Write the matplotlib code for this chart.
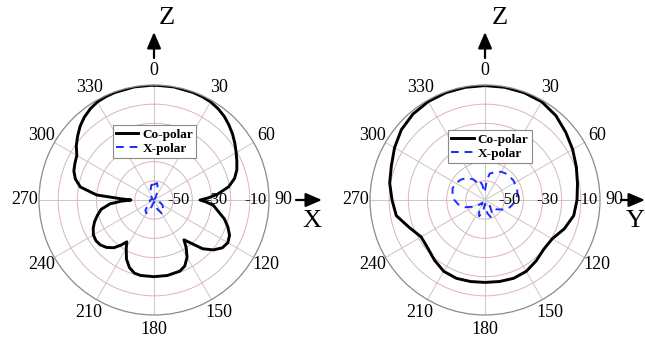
import numpy as np
import matplotlib
matplotlib.use("Agg")
import matplotlib.pyplot as plt
from matplotlib.lines import Line2D

plt.rcParams['font.family'] = ['Liberation Serif', 'DejaVu Serif']

# ---------------- data (degrees, dB) ----------------
xz_co_deg = [0, 10, 20, 25, 30, 35, 40, 45, 50, 55, 60, 65, 70, 75, 80, 85, 88, 90, 92, 95,
             100, 105, 110, 115, 120, 125, 130, 135, 140, 143, 146, 150, 155, 160,
             170, 180, 190, 195, 200, 205, 210, 213, 216, 220, 225, 230, 235, 240,
             245, 250, 255, 260, 265, 268, 270, 272, 275, 280, 285, 290, 295, 300,
             305, 310, 315, 320, 325, 330, 335, 340, 350]
xz_co_db = [0, -0.1, -0.3, -0.5, -0.9, -1.8, -3, -4.7, -6.5, -8.5, -10.5, -12.3, -14, -16.5,
            -20.5, -27, -32, -36, -33, -29, -26, -22, -19, -16.5, -15.5, -16.5, -19.5, -24,
            -31, -34, -30, -25.5, -22, -20.5, -20, -20, -20, -20.5, -22.5, -26, -31,
            -34, -31, -27.5, -25, -23.5, -23, -23.5, -25, -27, -29.5, -32, -37, -43,
            -48, -43, -30, -21, -17.5, -15.5, -14.5, -13.5, -10.5, -8, -5.5, -3.5,
            -2, -0.9, -0.5, -0.3, -0.1]

xz_x_deg = [0, 10, 20, 30, 60, 90, 120, 140, 150, 160, 180, 200, 210, 220, 240, 270,
            300, 330, 350]
xz_x_db = [-52, -51, -54, -58, -60, -58, -55, -52, -52, -55, -59, -56, -52, -53, -57,
           -58, -59, -56, -52]

yz_co_deg = [0, 10, 20, 30, 40, 50, 60, 70, 80, 90, 100, 110, 120, 130, 140, 150, 160,
             170, 180, 190, 200, 210, 220, 230, 240, 250, 260, 270, 280, 290, 300, 310,
             320, 330, 340, 350]
yz_co_db = [-0.3, -0.3, -0.4, -0.8, -2.5, -5, -7.2, -9.3, -11, -12, -13, -16, -19.5, -20,
            -18.5, -17, -16.5, -16.8, -17, -16.8, -16.5, -17, -19, -21, -21.5, -18, -13,
            -11.5, -9.5, -8, -5.5, -3, -1.5, -0.7, -0.4, -0.3]

yz_x_deg = [0, 5, 10, 20, 30, 40, 55, 70, 80, 90, 100, 110, 120, 130, 140, 150, 160, 170,
            180, 190, 200, 210, 220, 235, 250, 260, 270, 280, 290, 300, 310, 320, 330,
            340, 345, 350, 355]
yz_x_db = [-55, -50, -46, -44.5, -43, -42.3, -42, -42.2, -42.8, -44, -45.5, -47, -50,
           -52.5, -56, -53, -50, -53, -58, -54, -51, -54, -58, -54, -49, -46, -44, -42.8,
           -42, -42.5, -43.5, -45, -47.5, -51, -50, -52, -56]

theta_ticks = list(range(0, 360, 30))
theta_labels = [str(t) for t in theta_ticks]
r_rings = [-50, -40, -30, -20, -10]
r_labels = ['-50', '', '-30', '', '-10']
legend_labels = ['Co-polar', 'X-polar']

W, H = 645, 338
fig = plt.figure(figsize=(W / 100, H / 100), dpi=100)
R = 115


def rect(cx, cy):
    return [(cx - R) / W, (H - cy - R) / H, 2 * R / W, 2 * R / H]


def closed(d, v):
    t = np.deg2rad(np.array(d + [d[0]], dtype=float))
    return t, np.array(v + [v[0]], dtype=float)


def make_ax(cx, cy, co, xp, leg_anchor):
    ax = fig.add_axes(rect(cx, cy), projection='polar')
    ax.set_theta_zero_location('N')
    ax.set_theta_direction(-1)
    ax.set_rlim(-60, 0)
    ax.set_thetagrids(theta_ticks, theta_labels, fontsize=13)
    ax.set_rticks(r_rings)
    ax.set_yticklabels([])
    ax.tick_params(axis='x', pad=0)
    ax.xaxis.grid(True, color='#c8c8c8', lw=0.7)
    ax.yaxis.grid(True, color='#dcb4b8', lw=0.7)
    ax.spines['polar'].set_color('#8a8a8a')
    ax.spines['polar'].set_linewidth(0.9)
    for rv, lab in zip(r_rings, r_labels):
        if lab:
            ax.text(np.deg2rad(90), rv + 2.8, lab, fontsize=12, ha='center', va='center')
    t, v = closed(*co)
    ax.plot(t, v, color='black', lw=2.1)
    t, v = closed(*xp)
    ax.plot(t, v, color='#1f2bff', lw=1.4, ls=(0, (4, 3)))
    handles = [Line2D([], [], color='black', lw=2.1),
               Line2D([], [], color='#1f2bff', lw=1.4, ls=(0, (4, 3)))]
    leg = ax.legend(handles, legend_labels, loc='upper left', bbox_to_anchor=leg_anchor,
                    prop={'weight': 'bold', 'size': 9.5}, fancybox=False, framealpha=1,
                    edgecolor='#8a8a8a', handlelength=1.7, handletextpad=0.3,
                    labelspacing=0.15, borderpad=0.25, borderaxespad=0)
    leg.get_frame().set_linewidth(0.8)
    return ax


make_ax(154, 200, (xz_co_deg, xz_co_db), (xz_x_deg, xz_x_db), (0.32, 0.826))
make_ax(485, 200, (yz_co_deg, yz_co_db), (yz_x_deg, yz_x_db), (0.339, 0.804))


def fx(px):
    return px / W


def fy(py):
    return 1 - py / H


def arrow(x0, y0, x1, y1):
    fig.add_artist(matplotlib.patches.FancyArrowPatch(
        (fx(x0), fy(y0)), (fx(x1), fy(y1)), transform=fig.transFigure,
        arrowstyle='-|>,head_length=0.7,head_width=0.3', mutation_scale=14,
        color='black', lw=1.6, shrinkA=0, shrinkB=0))


arrow(154, 58, 154, 32)
arrow(485, 58, 485, 32)
arrow(296, 200, 322, 200)
arrow(621, 200, 645, 200)
fig.text(fx(167), fy(18), 'Z', fontsize=19, ha='center', va='center')
fig.text(fx(500), fy(18), 'Z', fontsize=19, ha='center', va='center')
fig.text(fx(312), fy(221), 'X', fontsize=19, ha='center', va='center')
fig.text(fx(635), fy(221), 'Y', fontsize=19, ha='center', va='center')

fig.savefig('out.png', dpi=100, facecolor='white')
